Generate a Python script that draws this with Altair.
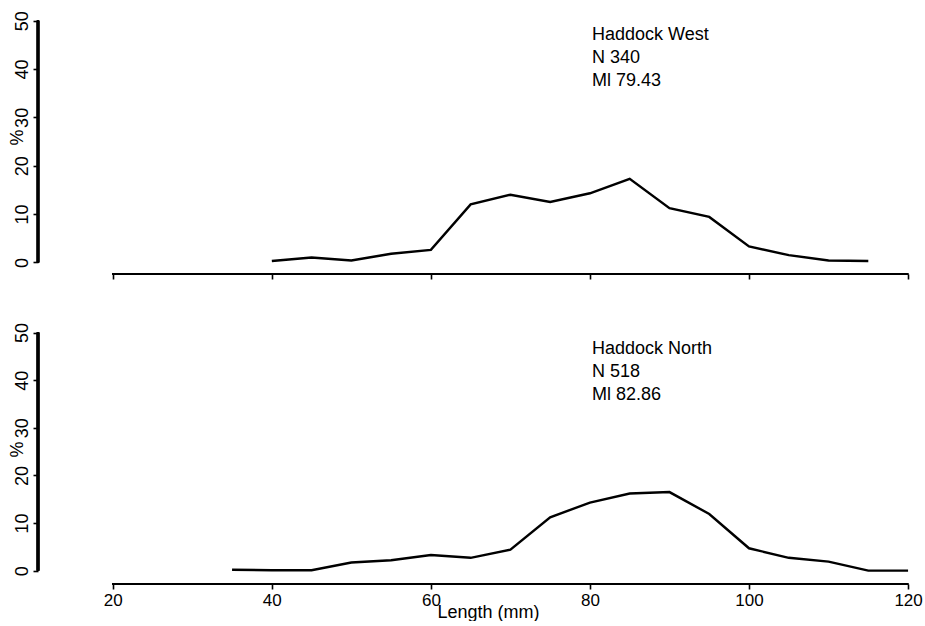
import altair as alt
import pandas as pd

# ---- data ----
lengths_west = [40, 45, 50, 55, 60, 65, 70, 75, 80, 85, 90, 95, 100, 105, 110, 115]
pct_west = [0.3, 1.0, 0.4, 1.8, 2.6, 12.0, 14.0, 12.5, 14.3, 17.3, 11.2, 9.4, 3.3, 1.5, 0.4, 0.3]

lengths_north = [35, 40, 45, 50, 55, 60, 65, 70, 75, 80, 85, 90, 95, 100, 105, 110, 115, 120]
pct_north = [0.2, 0.1, 0.1, 1.7, 2.2, 3.3, 2.7, 4.4, 11.2, 14.3, 16.2, 16.5, 11.9, 4.7, 2.7, 1.9, 0.0, 0.0]

x_ticks = [20, 40, 60, 80, 100, 120]
y_ticks = [0, 10, 20, 30, 40, 50]

labels_west = ["Haddock West", "N 340", "Ml 79.43"]
labels_north = ["Haddock North", "N 518", "Ml 82.86"]

FONT = "Liberation Sans"
X_DOMAIN = [10.6, 121.5]
WIDTH = 882


def panel(lengths, pct, labels, ymin, height, bottom, text_y):
    df = pd.DataFrame({"Length": lengths, "Pct": pct})
    xs = alt.Scale(domain=X_DOMAIN, nice=False, zero=False)
    ys = alt.Scale(domain=[ymin, 52], nice=False, zero=False)

    xaxis_kw = dict(values=x_ticks, domain=False, grid=False, ticks=True,
                    tickSize=5, tickWidth=1.6, tickColor="black",
                    labelFont=FONT, labelFontSize=17, labelColor="black",
                    labelPadding=3, labels=bottom)
    if bottom:
        xaxis_kw.update(title="Length (mm)", titleFont=FONT, titleFontSize=18,
                        titleFontWeight="normal", titleColor="black",
                        titleX=450, titleY=28, titleAlign="center",
                        titleBaseline="middle")
    else:
        xaxis_kw.update(title="")
    xaxis = alt.Axis(**xaxis_kw)
    yaxis = alt.Axis(values=y_ticks, domain=False, grid=False,
                     tickSize=5, tickWidth=1.6, tickColor="black",
                     labelFont=FONT, labelFontSize=18, labelColor="black",
                     labelAngle=270, labelPadding=2, labelAlign="center",
                     labelBaseline="bottom",
                     title="%", titleFont=FONT, titleFontSize=18,
                     titleFontWeight="normal", titleColor="black",
                     titleAngle=270, titleX=-21, titleY=126,
                     titleAlign="center", titleBaseline="middle")

    line = alt.Chart(df).mark_line(color="black", strokeWidth=2.4).encode(
        x=alt.X("Length:Q", scale=xs, axis=xaxis),
        y=alt.Y("Pct:Q", scale=ys, axis=yaxis),
    )

    xline = alt.Chart(df).mark_rule(color="black", strokeWidth=2.2).encode(
        x=alt.datum(x_ticks[0]),
        x2=alt.datum(x_ticks[-1]),
        y=alt.datum(ymin),
    )
    yline = alt.Chart(df).mark_rule(color="black", strokeWidth=2.2).encode(
        y=alt.datum(y_ticks[0]),
        y2=alt.datum(y_ticks[-1]),
        x=alt.datum(X_DOMAIN[0]),
    )

    txt_df = pd.DataFrame({"t": ["\n".join(labels)]})
    txt = alt.Chart(txt_df).mark_text(
        align="left", baseline="alphabetic", lineBreak="\n", lineHeight=23,
        font=FONT, fontSize=18, color="black",
    ).encode(x=alt.value(554), y=alt.value(text_y), text="t:N")

    return alt.layer(line, xline, yline, txt).properties(width=WIDTH, height=height)


top = panel(lengths_west, pct_west, labels_west, -2.4, 263, False, 29)
bot = panel(lengths_north, pct_north, labels_north, -2.8, 261, True, 31)

chart = alt.vconcat(top, bot, spacing=42).properties(
    padding={"left": 8, "top": 10, "right": 0, "bottom": 0},
    background="white",
).configure_view(stroke=None)

chart.save("out.html", embed_options={"renderer": "svg", "actions": False})
